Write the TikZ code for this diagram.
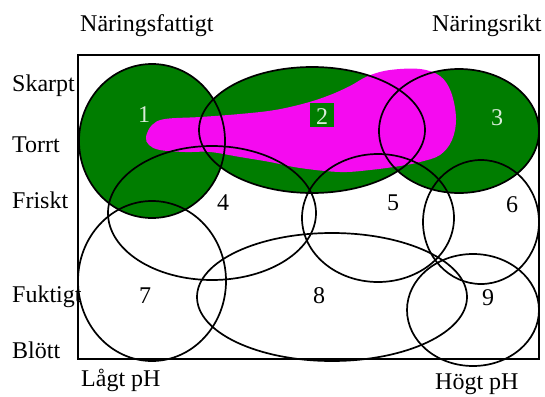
\documentclass[tikz,border=0pt]{standalone}
\usepackage{fontspec}
\setmainfont{Liberation Serif}
\definecolor{leafgreen}{RGB}{0,125,0}
\definecolor{blobmag}{RGB}{245,10,240}
\begin{document}
\begin{tikzpicture}[x=1pt,y=-1pt,
  lbl/.style={anchor=base west,inner sep=0pt,font=\fontsize{24}{26}\selectfont},
  num/.style={anchor=base,inner sep=0pt,font=\fontsize{24}{26}\selectfont},
  gnum/.style={num,text=white!85!leafgreen},
  ring/.style={draw=black,line width=1.7pt},
  zone/.style={fill=leafgreen}]
\useasboundingbox (0,0) rectangle (545,396);
% green zones
\fill[zone] (152,141) ellipse[x radius=73,y radius=77];
\fill[zone] (312,130) ellipse[x radius=113,y radius=63];
\fill[zone] (459,131) ellipse[x radius=80,y radius=62];
% magenta blob
\fill[blobmag] plot[smooth cycle,tension=0.6] coordinates{
 (146,137) (152,125) (165,119) (200,117) (240,114) (275,110) (306,103)
 (330,95) (350,86) (368,76) (390,70) (420,69) (440,76) (451,92)
 (456,118) (452,140) (440,155) (420,162) (400,166) (370,170) (340,172)
 (300,168) (270,162) (240,157) (210,152) (185,152) (160,150) (149,145)};
\fill[leafgreen] (310,103) rectangle (334,127);
% frame
\draw[line width=1.3pt] (78,55) rectangle (539,359);
% outlines
\draw[ring] (152,141) ellipse[x radius=73,y radius=77];
\draw[ring] (312,130) ellipse[x radius=113,y radius=63];
\draw[ring] (459,131) ellipse[x radius=80,y radius=62];
\draw[ring] (212,213) ellipse[x radius=104,y radius=67];
\draw[ring] (378,218) ellipse[x radius=76,y radius=64];
\draw[ring] (481,222) ellipse[x radius=58,y radius=62];
\draw[ring] (152,281) ellipse[x radius=74,y radius=80];
\draw[ring] (332,297) ellipse[x radius=135,y radius=64];
\draw[ring] (473,310) ellipse[x radius=66,y radius=56];
% axis labels
\node[lbl] (poor) at (80,32) {Näringsfattigt};
\node[lbl] (rich) at (432,32) {Näringsrikt};
\node[lbl] (skarpt) at (12,91) {Skarpt};
\node[lbl] (torrt) at (12,152) {Torrt};
\node[lbl] (friskt) at (12,208) {Friskt};
\node[lbl] (fuktigt) at (12,302) {Fuktigt};
\node[lbl] (blott) at (12,358) {Blött};
\node[lbl] (lagt) at (81,386) {Lågt pH};
\node[lbl] (hogt) at (435,389) {Högt pH};
% zone numbers
\node[gnum] (n1) at (144,122) {1};
\node[gnum] (n2) at (322,124) {2};
\node[gnum] (n3) at (497,125) {3};
\node[num] (n4) at (223,210) {4};
\node[num] (n5) at (393,210) {5};
\node[num] (n6) at (512,212) {6};
\node[num] (n7) at (145,303) {7};
\node[num] (n8) at (319,303) {8};
\node[num] (n9) at (488,305) {9};
\end{tikzpicture}
\end{document}
